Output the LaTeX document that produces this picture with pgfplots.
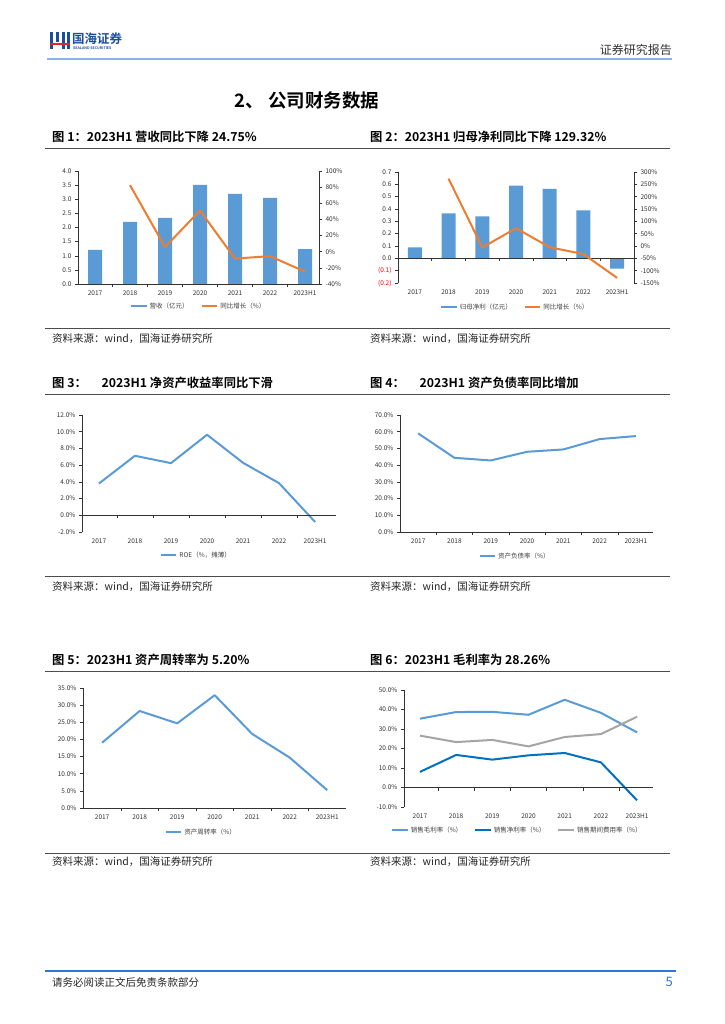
\documentclass[border=0pt]{standalone}
\usepackage{fontspec}
\setmainfont{Noto Sans CJK SC}[BoldFont={Noto Sans CJK SC Bold}]
\usepackage{pgfplots}
\pgfplotsset{compat=1.18}
\definecolor{cblue}{HTML}{5B9BD5}
\definecolor{corange}{HTML}{ED7D31}
\definecolor{cdark}{HTML}{0070C0}
\definecolor{cgray}{HTML}{A5A5A5}
\definecolor{hdrblue}{HTML}{8DB3E2}
\definecolor{logoblue}{HTML}{1A4FA0}
\definecolor{logored}{HTML}{E0262B}
\definecolor{footblue}{HTML}{2E75D6}

\pgfplotsset{
 base/.style={scale only axis, anchor=south west,
   axis x line*=bottom, axis y line*=left,
   x axis line style={draw=none},
   y axis line style={black!80, line width=0.5pt},
   xtick={0,...,6}, xticklabels={2017,2018,2019,2020,2021,2022,2023H1},
   x tick style={draw=none},
   y tick style={black!80, line width=0.5pt},
   tick align=outside, major tick length=3pt,
   tick label style={font=\fontsize{6.5}{7}\selectfont, text=black!80},
   /pgf/number format/assume math mode=true,
   legend style={draw=none, fill=none, font=\fontsize{6.5}{7}\selectfont, text=black!75,
     /tikz/every even column/.append style={column sep=10pt}},
   legend cell align=left,
   legend image code/.code={\draw[##1] (0cm,0cm) -- (0.55cm,0cm);},
   clip=false,
 },
 pct/.style={yticklabel={\pgfmathprintnumber[fixed,fixed zerofill,precision=1]{\tick}\%}},
 ln/.style={line width=2pt, line join=round},
}
\newcommand{\zeroline}{%
 \draw[black!80,line width=0.5pt] ({rel axis cs:0,0}|-{axis cs:0,0}) -- ({rel axis cs:1,0}|-{axis cs:0,0});
 \pgfplotsinvokeforeach{0.5,1.5,2.5,3.5,4.5,5.5}{\draw[black!80,line width=0.5pt] (axis cs:##1,0) -- ([yshift=-3pt]axis cs:##1,0);}%
}

\begin{document}
\begin{tikzpicture}
\fill[white] (0,0) rectangle (724pt,-1024pt);
\path[use as bounding box] (0,0) rectangle (724pt,-1024pt);

% ---------- header ----------
\fill[logoblue] (50pt,-32pt) rectangle (53pt,-49pt);
\fill[logoblue] (56pt,-32pt) rectangle (59pt,-42pt);
\fill[logoblue] (62pt,-32pt) rectangle (65pt,-49pt);
\fill[logoblue] (67pt,-32pt) rectangle (70pt,-49pt);
\fill[logored] (50pt,-43pt) rectangle (70pt,-45.5pt);
\node[anchor=west, font=\fontsize{12.5}{13}\selectfont\bfseries, text=logoblue, inner sep=0pt] at (72pt,-39pt) {国海证券};
\node[anchor=west, font=\fontsize{3.6}{4}\selectfont\bfseries, text=logoblue, inner sep=0pt] at (73pt,-48.5pt) {SEALAND SECURITIES};
\node[anchor=east, font=\fontsize{12}{13}\selectfont, text=black!80, inner sep=0pt] at (672pt,-50pt) {证券研究报告};
\draw[hdrblue, line width=1.2pt] (47pt,-59pt) -- (672pt,-59pt);

\node[font=\fontsize{18.5}{19}\selectfont\bfseries, inner sep=0pt] at (307pt,-101pt) {2、 公司财务数据};

% ---------- titles & rules ----------
\foreach \ty/\ly in {137/148, 383/394, 660/671} {
  \draw[black!70, line width=0.8pt] (45pt,-\ly pt) -- (670pt,-\ly pt);
}
\node[anchor=west, font=\fontsize{12.3}{13}\selectfont\bfseries, inner sep=0pt] at (52pt,-137pt) {图 1：2023H1 营收同比下降 24.75\%};
\node[anchor=west, font=\fontsize{12.3}{13}\selectfont\bfseries, inner sep=0pt] at (370pt,-137pt) {图 2：2023H1 归母净利同比下降 129.32\%};
\node[anchor=west, font=\fontsize{12.3}{13}\selectfont\bfseries, inner sep=0pt] at (52pt,-383pt) {图 3：\hspace{1.2em}2023H1 净资产收益率同比下滑};
\node[anchor=west, font=\fontsize{12.3}{13}\selectfont\bfseries, inner sep=0pt] at (370pt,-383pt) {图 4：\hspace{1.2em}2023H1 资产负债率同比增加};
\node[anchor=west, font=\fontsize{12.3}{13}\selectfont\bfseries, inner sep=0pt] at (52pt,-660pt) {图 5：2023H1 资产周转率为 5.20\%};
\node[anchor=west, font=\fontsize{12.3}{13}\selectfont\bfseries, inner sep=0pt] at (370pt,-660pt) {图 6：2023H1 毛利率为 28.26\%};

\foreach \ly/\sy in {328/339, 576/587, 853/862} {
  \draw[black!70, line width=0.8pt] (45pt,-\ly pt) -- (670pt,-\ly pt);
  \node[anchor=west, font=\fontsize{10.5}{11}\selectfont, text=black!85, inner sep=0pt] at (52pt,-\sy pt) {资料来源：wind，国海证券研究所};
  \node[anchor=west, font=\fontsize{10.5}{11}\selectfont, text=black!85, inner sep=0pt] at (370pt,-\sy pt) {资料来源：wind，国海证券研究所};
}

% ---------- footer ----------
\draw[footblue, line width=1.2pt] (45pt,-971pt) -- (676pt,-971pt);
\node[anchor=west, font=\fontsize{10.5}{11}\selectfont, text=black!85, inner sep=0pt] at (52pt,-982pt) {请务必阅读正文后免责条款部分};
\node[anchor=east, font=\fontsize{13}{14}\selectfont, text=footblue, inner sep=0pt] at (673pt,-982pt) {5};

% ---------- Chart 1 ----------
\begin{axis}[base, at={(78pt,-284pt)}, width=241pt, height=113pt,
  xmin=-0.486, xmax=6.4, ymin=0, ymax=4, ytick={0,0.5,1,1.5,2,2.5,3,3.5,4},
  yticklabel={\pgfmathprintnumber[fixed,fixed zerofill,precision=1]{\tick}},
  legend columns=2, legend style={at={(0.5,0)}, anchor=center, yshift=-22pt}]
\addplot[ybar, bar width=14pt, fill=cblue, draw=none,
  legend image code/.code={\draw[cblue, line width=2.4pt] (0cm,0cm) -- (0.55cm,0cm);}]
  coordinates {(0,1.21) (1,2.20) (2,2.34) (3,3.51) (4,3.19) (5,3.05) (6,1.235)};
\addlegendentry{营收（亿元）}
\addlegendimage{corange, line width=2pt}
\addlegendentry{同比增长（\%）}
\zeroline
\end{axis}
\begin{axis}[base, at={(78pt,-284pt)}, width=241pt, height=113pt,
  axis x line=none, axis y line*=right,
  xmin=-0.486, xmax=6.4, ymin=-40, ymax=100, ytick={-40,-20,...,100},
  yticklabel={\pgfmathprintnumber{\tick}\%}]
\addplot[ln, corange] coordinates {(1,82.5) (2,5.8) (3,51) (4,-8.5) (5,-5.5) (6,-24.75)};
\end{axis}

% ---------- Chart 2 ----------
\begin{axis}[base, at={(398pt,-283pt)}, width=236pt, height=111pt,
  xmin=-0.5, xmax=6.5, ymin=-0.2, ymax=0.7,
  ytick={-0.2,-0.1,0,0.1,0.2,0.3,0.4,0.5,0.6,0.7},
  yticklabels={{\color{red}(0.2)},{\color{red}(0.1)},0.0,0.1,0.2,0.3,0.4,0.5,0.6,0.7},
  legend columns=2, legend style={at={(0.496,0)}, anchor=center, yshift=-24pt}]
\addplot[ybar, bar width=14pt, fill=cblue, draw=none,
  legend image code/.code={\draw[cblue, line width=2.4pt] (0cm,0cm) -- (0.55cm,0cm);}]
  coordinates {(0,0.089) (1,0.364) (2,0.340) (3,0.590) (4,0.563) (5,0.388) (6,-0.084)};
\addlegendentry{归母净利（亿元）}
\addlegendimage{corange, line width=2pt}
\addlegendentry{同比增长（\%）}
\zeroline
\end{axis}
\begin{axis}[base, at={(398pt,-283pt)}, width=236pt, height=111pt,
  axis x line=none, axis y line*=right,
  xmin=-0.5, xmax=6.5, ymin=-150, ymax=300, ytick={-150,-100,...,300},
  yticklabel={\pgfmathprintnumber{\tick}\%}]
\addplot[ln, corange] coordinates {(1,273) (2,-6) (3,72) (4,-5) (5,-33) (6,-129.32)};
\end{axis}

% ---------- Chart 3 ----------
\begin{axis}[base, pct, at={(82pt,-532pt)}, width=254pt, height=117pt,
  xmin=-0.47, xmax=6.58, ymin=-2, ymax=12, ytick={-2,0,...,12},
  legend style={at={(0.45,0)}, anchor=center, yshift=-23pt}]
\addplot[ln, cblue] coordinates {(0,3.8) (1,7.12) (2,6.24) (3,9.64) (4,6.28) (5,3.84) (6,-0.8)};
\addlegendentry{ROE（\%，摊薄）}
\zeroline
\end{axis}

% ---------- Chart 4 ----------
\begin{axis}[base, pct, at={(400pt,-532pt)}, width=253pt, height=117pt,
  xmin=-0.5, xmax=6.47, ymin=0, ymax=70, ytick={0,10,...,70},
  legend style={at={(0.455,0)}, anchor=center, yshift=-24pt}]
\addplot[ln, cblue] coordinates {(0,59.0) (1,44.4) (2,42.8) (3,48.0) (4,49.4) (5,55.6) (6,57.4)};
\addlegendentry{资产负债率（\%）}
\zeroline
\end{axis}

% ---------- Chart 5 ----------
\begin{axis}[base, pct, at={(83pt,-808pt)}, width=263pt, height=120pt,
  xmin=-0.51, xmax=6.5, ymin=0, ymax=35, ytick={0,5,...,35},
  legend style={at={(0.45,0)}, anchor=center, yshift=-24pt}]
\addplot[ln, cblue] coordinates {(0,19.05) (1,28.3) (2,24.7) (3,32.9) (4,21.6) (5,14.7) (6,5.2)};
\addlegendentry{资产周转率（\%）}
\zeroline
\end{axis}

% ---------- Chart 6 ----------
\begin{axis}[base, pct, at={(404pt,-807pt)}, width=249pt, height=117pt,
  xmin=-0.44, xmax=6.44, ymin=-10, ymax=50, ytick={-10,0,...,50},
  legend columns=3, legend style={at={(0.455,0)}, anchor=center, yshift=-23pt}]
\addplot[ln, cblue] coordinates {(0,35.3) (1,38.7) (2,38.8) (3,37.3) (4,45.0) (5,38.3) (6,28.26)};
\addlegendentry{销售毛利率（\%）}
\addplot[ln, cdark] coordinates {(0,8.0) (1,16.7) (2,14.3) (3,16.5) (4,17.7) (5,12.9) (6,-6.6)};
\addlegendentry{销售净利率（\%）}
\addplot[ln, cgray] coordinates {(0,26.6) (1,23.3) (2,24.4) (3,21.1) (4,25.9) (5,27.4) (6,36.3)};
\addlegendentry{销售期间费用率（\%）}
\zeroline
\end{axis}
\end{tikzpicture}
\end{document}
